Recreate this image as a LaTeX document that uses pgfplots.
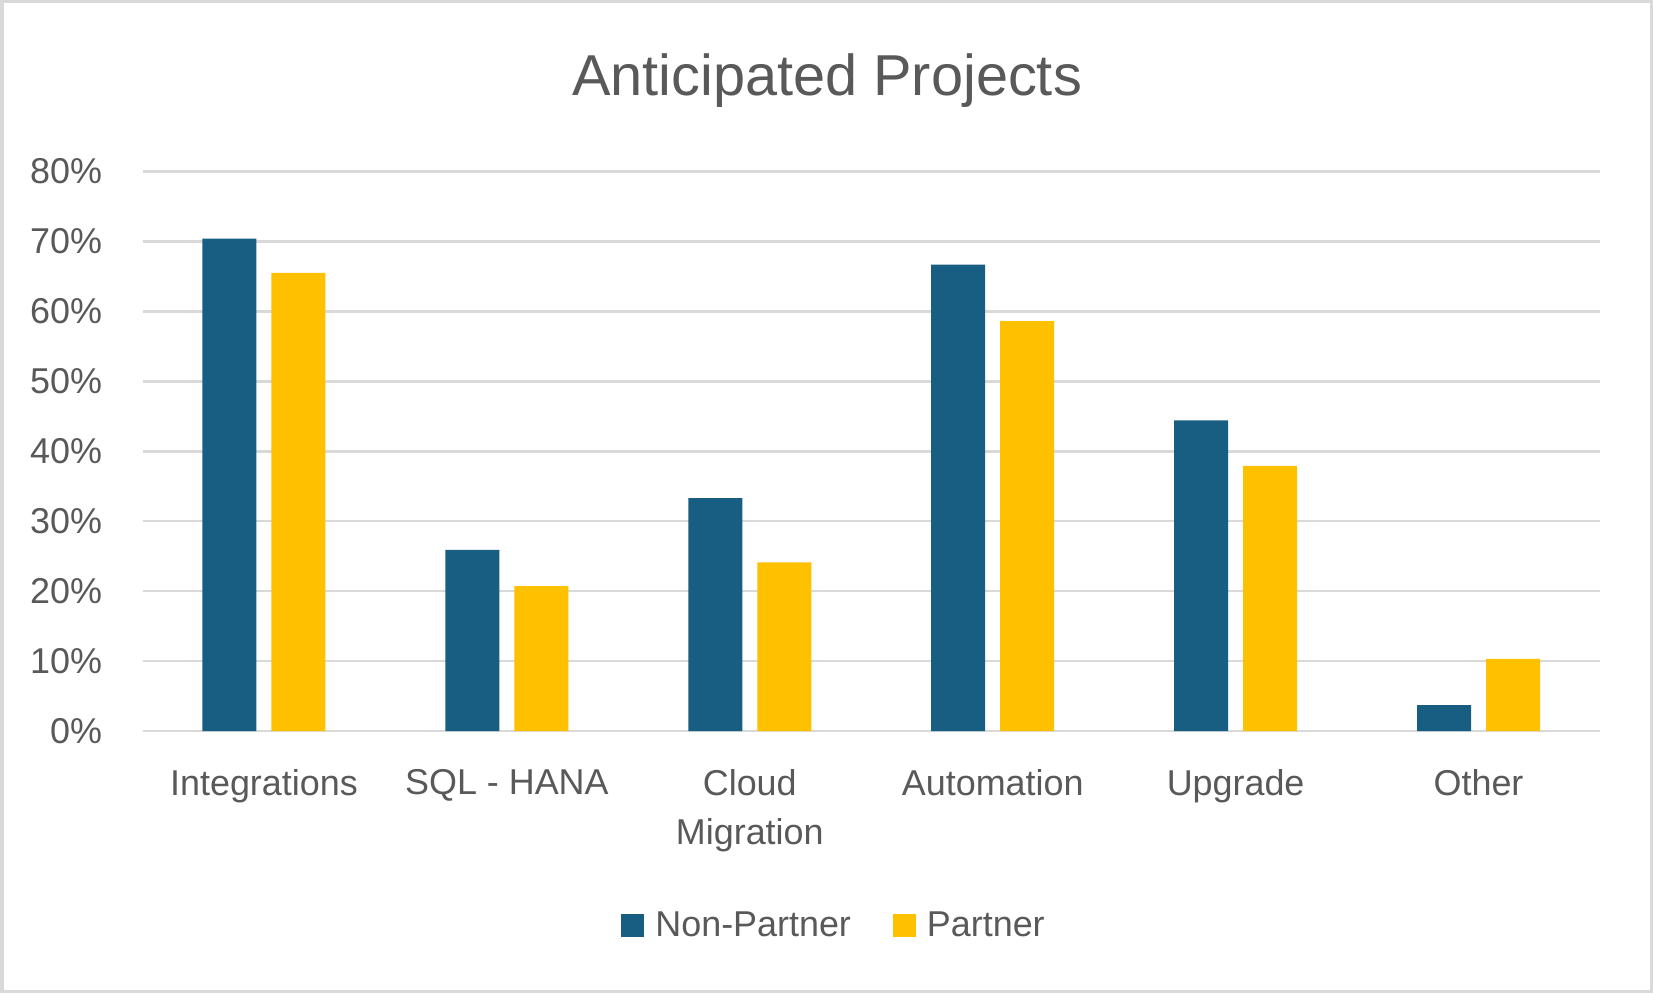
\documentclass[border=0pt]{standalone}
\usepackage{pgfplots}
\pgfplotsset{compat=1.18}
\usepackage{fontspec}
\setmainfont{Liberation Sans}
\definecolor{txt}{HTML}{595959}
\definecolor{gridc}{HTML}{D9D9D9}
\definecolor{np}{HTML}{175E82}
\definecolor{pa}{HTML}{FFC000}
\newcommand{\lblfont}{\fontsize{17.95pt}{24.25pt}\selectfont}
\begin{document}
\begin{tikzpicture}
\useasboundingbox (0,0) rectangle (826.5pt,496.5pt);
\fill[white] (0,0) rectangle (826.5pt,496.5pt);
\draw[gridc, line width=1.75pt] (0.875pt,0.875pt) rectangle (825.625pt,495.625pt);
\node[anchor=base, text=txt, font=\fontsize{28.85pt}{34pt}\selectfont, inner sep=0pt] at (413.5pt,448.65pt) {Anticipated Projects};
\begin{axis}[
  scale only axis,
  at={(71.25pt,131pt)}, anchor=south west,
  width=728.75pt, height=279.75pt,
  xmin=-0.5, xmax=5.5, ymin=0, ymax=80,
  ybar=7.5pt, bar width=27pt,
  axis line style={draw=none},
  major tick length=0pt,
  tick style={draw=none},
  xmajorgrids=false,
  ymajorgrids=true,
  major grid style={draw=gridc, line width=1.25pt},
  ytick={0,10,20,30,40,50,60,70,80},
  yticklabels={0\%,10\%,20\%,30\%,40\%,50\%,60\%,70\%,80\%},
  xtick={0,1,2,3,4,5},
  xticklabels={Integrations,SQL - HANA,{Cloud\\Migration},Automation,Upgrade,Other},
  yticklabel style={anchor=east, inner sep=0pt, xshift=-20pt, text=txt, font=\lblfont},
  xticklabel style={anchor=north, inner sep=0pt, yshift=-19.15pt, text=txt, font=\lblfont, align=center},
  legend columns=2,
  legend style={at={(0.4738,-0.3476)}, anchor=center, draw=none, fill=none,
    inner sep=0pt, font=\lblfont, text=txt,
    nodes={inner sep=0pt, text=txt},
    /tikz/every odd column/.append style={column sep=5.5pt},
    /tikz/every even column/.append style={column sep=21pt}},
]
\addplot[fill=np, draw=none, legend image code/.code={\fill[np] (0pt,-5.75pt) rectangle (11.5pt,5.75pt);}]
  coordinates {(0,70.4) (1,25.9) (2,33.3) (3,66.7) (4,44.4) (5,3.7)};
\addlegendentry{Non-Partner}
\addplot[fill=pa, draw=none, legend image code/.code={\fill[pa] (0pt,-5.75pt) rectangle (11.5pt,5.75pt);}]
  coordinates {(0,65.5) (1,20.7) (2,24.1) (3,58.6) (4,37.9) (5,10.3)};
\addlegendentry{Partner}
\end{axis}
\end{tikzpicture}
\end{document}
